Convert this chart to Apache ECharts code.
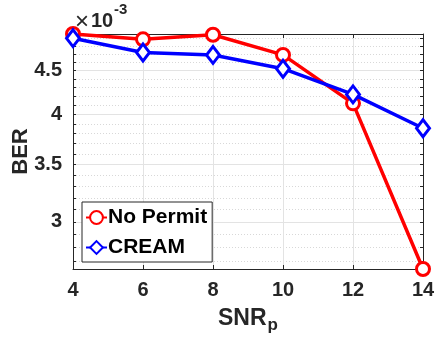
<!DOCTYPE html>
<html>
<head>
<meta charset="utf-8">
<script src="https://cdn.jsdelivr.net/npm/echarts@6/dist/echarts.min.js"></script>
<style>
  html, body { margin: 0; padding: 0; background: #fff; }
  #chart { width: 435px; height: 343px; }
</style>
</head>
<body>
<div id="chart"></div>
<script>
// SNR_p values on the x axis
const snr = [4, 6, 8, 10, 12, 14]
// BER values (x 1e-3)
const noPermit = [4.96, 4.89, 4.95, 4.69, 4.12, 2.645]
const cream = [4.905, 4.72, 4.69, 4.52, 4.22, 3.855]
const yMajor = [3, 3.5, 4, 4.5]
const yMinor = [2.7, 2.8, 2.9, 3, 3.1, 3.2, 3.3, 3.4, 3.5, 3.6, 3.7, 3.8, 3.9, 4, 4.1, 4.2, 4.3, 4.4, 4.5, 4.6, 4.7, 4.8, 4.9]
const yMin = 2.645
const yMax = 4.96

const scale = 1e-3
const font = 'Liberation Sans, Arial, Helvetica, sans-serif'
const ink = '#262626'

function pairs(vals) {
  return vals.map((v, i) => [snr[i], v * scale])
}

const chart = echarts.init(document.getElementById('chart'))

const logAxis = {
  type: 'log',
  logBase: 10,
  min: yMin * scale,
  max: yMax * scale
}

const option = {
  animation: false,
  grid: { left: 73, right: 12, top: 34, bottom: 74, outerBoundsMode: 'none', containLabel: false },
  legend: {
    left: 82,
    top: 202,
    orient: 'vertical',
    itemWidth: 21,
    itemHeight: 16,
    itemGap: 9,
    padding: [5, 5, 4, 3],
    borderColor: ink,
    borderWidth: 1,
    borderRadius: 0,
    backgroundColor: '#fff',
    textStyle: { fontFamily: font, fontWeight: 'bold', fontSize: 21, color: '#000', padding: [0, 0, 0, -4] },
    data: ['No Permit', 'CREAM']
  },
  xAxis: [
    {
      type: 'value',
      min: 4,
      max: 14,
      interval: 2,
      name: '{a|SNR}{b|p}',
      nameLocation: 'middle',
      nameGap: 34,
      nameMoveOverlap: false,
      nameTextStyle: {
        rich: {
          a: { fontFamily: font, fontWeight: 'bold', fontSize: 23, color: ink },
          b: { fontFamily: font, fontWeight: 'bold', fontSize: 17, color: ink, padding: [14, 0, 0, 1] }
        }
      },
      axisLine: { lineStyle: { color: ink, width: 1 } },
      axisTick: { inside: true, length: 4, lineStyle: { color: ink } },
      axisLabel: { margin: 11, fontFamily: font, fontWeight: 'bold', fontSize: 20, color: ink },
      splitLine: { show: true, lineStyle: { color: '#e3e3e3', width: 1 } }
    },
    {
      type: 'value',
      position: 'top',
      min: 4,
      max: 14,
      interval: 2,
      axisLine: { show: true, lineStyle: { color: ink, width: 1 } },
      axisTick: { inside: true, length: 4, lineStyle: { color: ink } },
      axisLabel: { show: false },
      splitLine: { show: false }
    }
  ],
  yAxis: [
    Object.assign({}, logAxis, {
      position: 'left',
      name: 'BER',
      nameLocation: 'middle',
      nameGap: 41,
      nameMoveOverlap: false,
      nameTextStyle: { fontFamily: font, fontWeight: 'bold', fontSize: 22, color: ink },
      axisLine: { show: true, lineStyle: { color: ink, width: 1 } },
      axisTick: { show: true, inside: true, length: 3, customValues: yMinor.map(v => v * scale), lineStyle: { color: ink } },
      axisLabel: {
        margin: 11,
        fontFamily: font,
        fontWeight: 'bold',
        fontSize: 20,
        color: ink,
        customValues: yMajor.map(v => v * scale),
        formatter: v => String(Math.round(v / scale * 10) / 10)
      },
      splitLine: { show: true, lineStyle: { color: '#d8d8d8', width: 1, type: [1, 2] } }
    }),
    Object.assign({}, logAxis, {
      position: 'right',
      axisLine: { show: true, lineStyle: { color: ink, width: 1 } },
      axisTick: { show: true, inside: true, length: 3, customValues: yMinor.map(v => v * scale), lineStyle: { color: ink } },
      axisLabel: { show: false },
      splitLine: { show: false }
    }),
    Object.assign({}, logAxis, {
      position: 'left',
      axisLine: { show: false },
      axisTick: { show: false, customValues: yMajor.map(v => v * scale) },
      axisLabel: { show: false },
      splitLine: { show: true, lineStyle: { color: '#e3e3e3', width: 1 } }
    })
  ],
  graphic: [
    {
      type: 'text',
      left: 75,
      top: 10,
      style: { text: '×', fontFamily: font, fontSize: 24, fill: ink }
    },
    {
      type: 'text',
      left: 91,
      top: 11,
      style: { text: '10', fontFamily: font, fontWeight: 'bold', fontSize: 20, fill: ink }
    },
    {
      type: 'text',
      left: 114,
      top: 2,
      style: { text: '-3', fontFamily: font, fontWeight: 'bold', fontSize: 15, fill: ink }
    }
  ],
  series: [
    {
      name: 'No Permit',
      type: 'line',
      data: pairs(noPermit),
      symbol: 'circle',
      symbolSize: 13,
      lineStyle: { color: '#ff0000', width: 3.5 },
      itemStyle: { color: '#fff', borderColor: '#ff0000', borderWidth: 3 },
      z: 3
    },
    {
      name: 'CREAM',
      type: 'line',
      data: pairs(cream),
      symbol: 'diamond',
      symbolSize: [13, 17],
      lineStyle: { color: '#0000ff', width: 3.5 },
      itemStyle: { color: '#fff', borderColor: '#0000ff', borderWidth: 3 },
      z: 4
    }
  ]
}

chart.setOption(option)
</script>
</body>
</html>
